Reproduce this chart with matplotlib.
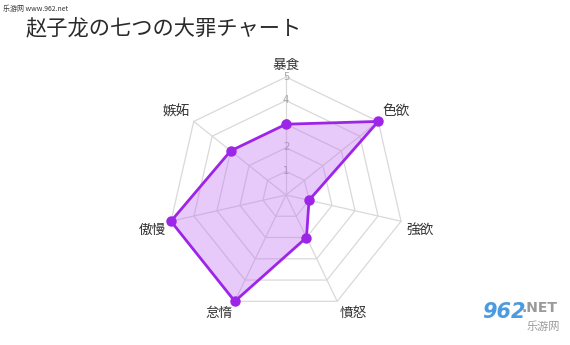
import numpy as np
import matplotlib
matplotlib.use("Agg")
import matplotlib.pyplot as plt
from matplotlib.transforms import offset_copy

plt.rcParams['font.family'] = ['Noto Sans CJK JP', 'DejaVu Sans']

title = "赵子龙の七つの大罪チャート"
categories = ["暴食", "色欲", "強欲", "憤怒", "怠惰", "傲慢", "嫉妬"]
values = [3, 5, 1, 2, 5, 5, 3]
tick_values = [1, 2, 3, 4, 5]
tick_labels = ["1", "2", "3", "4", "5"]
rmax = 5

line_color = "#9d25e8"
fill_color = "#c274f0"
grid_color = "#d9d9d9"

fig = plt.figure(figsize=(5.7, 3.45), dpi=100)
cx, cy = 286 / 570, 1 - 195 / 345
rw, rh = 118 / 570, 118 / 345
ax = fig.add_axes([cx - rw, cy - rh, 2 * rw, 2 * rh], projection="polar")
ax.set_theta_offset(np.pi / 2)
ax.set_theta_direction(-1)
ax.set_ylim(0, rmax)
ax.axis("off")

n = len(categories)
angles = np.linspace(0, 2 * np.pi, n, endpoint=False)
closed = np.concatenate([angles, angles[:1]])

# grid polygons and spokes
for t in tick_values:
    ax.plot(closed, [t] * (n + 1), color=grid_color, lw=0.9, zorder=1,
            clip_on=False)
for a in angles:
    ax.plot([a, a], [0, rmax], color=grid_color, lw=0.9, zorder=1,
            clip_on=False)

# tick labels along the top axis
for t, lab in zip(tick_values, tick_labels):
    ax.text(0, t + 0.02, lab, color="#a5a5a5", fontsize=7.2,
            ha="center", va="center", zorder=2, family=["DejaVu Sans"])

vals = list(values) + [values[0]]
ax.fill(closed, vals, color=fill_color, alpha=0.38, zorder=3, lw=0,
        clip_on=False)
ax.plot(closed, vals, color=line_color, lw=2.0, zorder=4,
        solid_joinstyle="round", clip_on=False)
ax.plot(angles, values, "o", color=line_color, ms=6.5, zorder=5,
        clip_on=False)

# category labels (chart.js-like placement)
pad = 5
for a, c in zip(angles, categories):
    s, co = np.sin(a), np.cos(a)
    if abs(s) < 0.05:
        ha = "center"
    else:
        ha = "left" if s > 0 else "right"
    va = "bottom" if co > 0.05 else ("top" if co < -0.05 else "center")
    tr = offset_copy(ax.transData, fig=fig, x=pad * s, y=pad * co, units="dots")
    ax.text(a, rmax, c, fontsize=9.8, color="#333333", ha=ha, va=va,
            zorder=6, transform=tr)

fig.text(26 / 570, 1 - 28 / 345, title, fontsize=15.3, color="#2a2a2a",
         ha="left", va="center")
fig.text(3 / 570, 1 - 9 / 345, "乐游网 www.962.net", fontsize=5, color="#333333",
         ha="left", va="center")

# watermark bottom-right
fig.text(482 / 570, 1 - 312 / 345, "962", fontsize=15, color="#4a9be0",
         fontweight="bold", fontstyle="italic", ha="left", va="center",
         family=["DejaVu Sans"])
fig.text(522 / 570, 1 - 308 / 345, ".NET", fontsize=10, color="#9a9a9a",
         fontweight="bold", ha="left", va="center", family=["DejaVu Sans"])
fig.text(527 / 570, 1 - 327 / 345, "乐游网", fontsize=8, color="#9a9a9a",
         ha="left", va="center")

fig.savefig("out.png", dpi=100, facecolor="white")
